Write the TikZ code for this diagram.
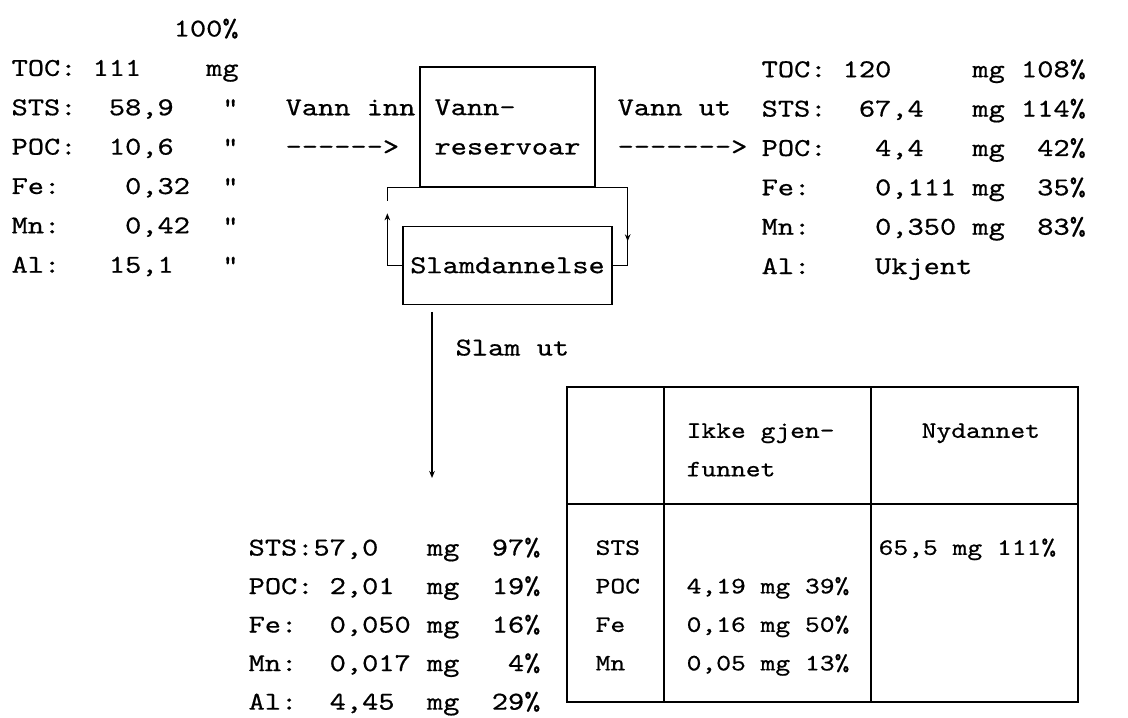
\documentclass[tikz,border=0pt]{standalone}
\usepackage{fontspec}
\setmonofont{lmmono10-regular.otf}[FakeStretch=1.2, FakeBold=0.6]
\usetikzlibrary{arrows.meta,positioning,calc}

\newcommand\tfont{\ttfamily\frenchspacing\fontsize{18.3}{28}\selectfont}
\newcommand\bfont{\ttfamily\frenchspacing\fontsize{18.3}{27.4}\selectfont}
\newcommand\cfont{\ttfamily\frenchspacing\fontsize{16.7}{27.4}\selectfont}

\begin{document}
\begin{tikzpicture}[
  x=0.025cm, y=-0.025cm,
  >={Stealth[length=5pt,width=4pt]},
  line width=0.9pt,
  txt/.style={font=\tfont, align=left, inner sep=0pt, anchor=north west},
  low/.style={txt, font=\bfont},
  cell/.style={txt, font=\cfont},
  box/.style={draw, font=\tfont, align=left, inner sep=0pt},
  flow/.style={->}
]
\useasboundingbox (0,0) rectangle (1128,717);

% inflow, outflow
\node[txt] (inn) at (11,8.3) {\strut~~~~~~~~~~100\%\\
  TOC:~111~~~~mg\\
  STS:~~58,9~~~"\\
  POC:~~10,6~~~"\\
  Fe:~~~~0,32~~"\\
  Mn:~~~~0,42~~"\\
  Al:~~~15,1~~~"};
\node[txt] (vinn) at (285,87.1) {\strut Vann~inn\\{-}{-}{-}{-}{-}{-}>};
\node[txt] (vut) at (617,87.1) {\strut Vann~ut\\{-}{-}{-}{-}{-}{-}{-}>};
\node[txt] (ut) at (761,49) {\strut TOC:~120~~~~~mg~108\%\\
  STS:~~67,4~~~mg~114\%\\
  POC:~~~4,4~~~mg~~42\%\\
  Fe:~~~~0,111~mg~~35\%\\
  Mn:~~~~0,350~mg~~83\%\\
  Al:~~~~Ukjent};

% reservoir and sludge loop
\node[box, minimum width=4.375cm, minimum height=3cm] (res) at (507.5,127) {Vann-\\reservoar};
\node[box, minimum width=5.225cm, minimum height=1.95cm, below=0.95cm of res] (slam) {Slamdannelse};
\coordinate (loopL) at ($(slam.west)+(-15,0)$);
\coordinate (loopR) at ($(slam.east)+(15,0)$);
\draw[flow] (slam.west) -- (loopL) -- ($(loopL)+(0,-52)$);
\draw[flow] ($(loopL |- res.south)+(0,13)$) -- (loopL |- res.south) -- (loopR |- res.south) -- ($(loopR)+(0,-24)$);
\draw ($(loopR)+(0,-25)$) -- (loopR) -- (slam.east);

% sludge out
\coordinate (sludge) at (432,478);
\draw[flow] ($(sludge |- slam.south)+(0,7)$) -- (sludge);
\node[txt] (slamut) at (455,327.3) {\strut Slam~ut};
\node[low] (slamdata) at (248,527.9) {\strut STS:57,0~~~mg~~97\%\\
  POC:~2,01~~mg~~19\%\\
  Fe:~~0,050~mg~~16\%\\
  Mn:~~0,017~mg~~~4\%\\
  Al:~~4,45~~mg~~29\%};

% balance table
\draw (567,387) rectangle (1078,702);
\draw (567,504) -- (1078,504);
\draw (664,387) -- (664,702);
\draw (871,387) -- (871,702);
\node[cell] (hikke) at (686,410.2) {\strut Ikke~gjen-\\funnet};
\node[cell] (hny) at (921,410.2) {\strut Nydannet};
\node[cell] (stoff) at (595,527.2) {\strut STS\\POC\\Fe\\Mn};
\node[cell] (ikke) at (686,565.7) {\strut 4,19~mg~39\%\\0,16~mg~50\%\\0,05~mg~13\%};
\node[cell] (ny) at (878,527.2) {\strut 65,5~mg~111\%};
\end{tikzpicture}
\end{document}
